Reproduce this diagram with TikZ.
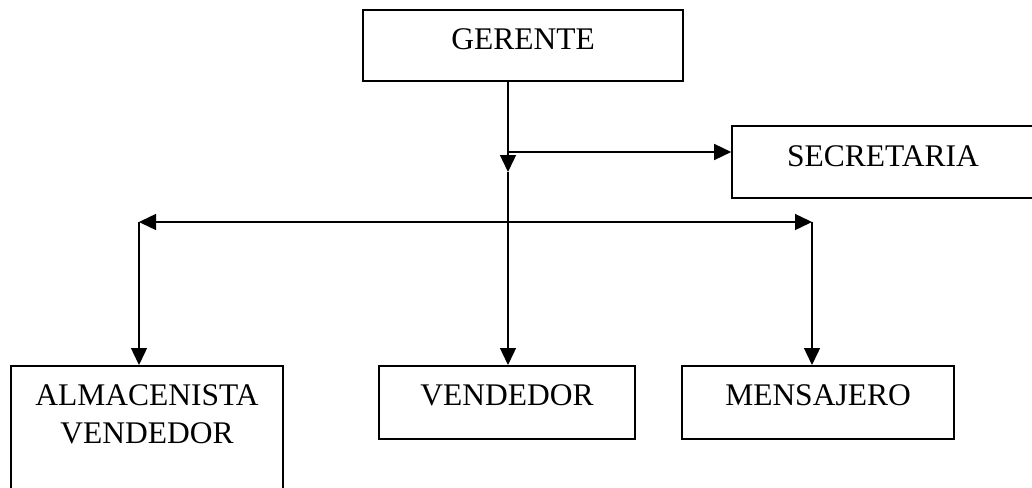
\documentclass[tikz,border=0pt]{standalone}
\usepackage{fontspec}
\setmainfont{Liberation Serif}
\usetikzlibrary{arrows.meta}
\begin{document}
\begin{tikzpicture}[x=1pt,y=-1pt,
  box/.style={draw, line width=1.6pt, anchor=north, inner xsep=0pt, inner ysep=19pt,
    text height=21pt, align=center, font=\fontsize{31.5}{38}\selectfont},
  tip/.style={Triangle[length=17pt,width=16pt]},
  conn/.style={line width=1.4pt, -{Triangle[length=17pt,width=16pt]}},
  conn2/.style={line width=1.4pt, {Triangle[length=17pt,width=16pt]}-{Triangle[length=17pt,width=16pt]}}]
\useasboundingbox (0,0) rectangle (1032,487);
\clip (0,0) rectangle (1032,487);
\node[box, minimum width=320pt, text depth=12pt] (ger) at (523,9) {GERENTE};
\node[box, minimum width=302pt, inner ysep=20pt, text depth=11pt] (sec) at (883,125) {SECRETARIA};
\node[box, minimum width=272pt, text height=59pt, text depth=120pt] (alm) at (147,365) {ALMACENISTA\\VENDEDOR};
\node[box, minimum width=256pt, text depth=14pt] (ven) at (507,365) {VENDEDOR};
\node[box, minimum width=272pt, text depth=14pt] (men) at (818,365) {MENSAJERO};
\coordinate (br) at (508,152);
\coordinate (mid) at (508,172);
\coordinate (L) at (139,222);
\coordinate (R) at (812,222);
\draw[conn] (ger.south -| mid) -- (mid);
\draw[conn] (mid) -- (ven.north -| mid);
\draw[conn] (br) -- (sec.west |- br);
\draw[conn2] (L) -- (R);
\draw[conn] (L) -- (alm.north -| L);
\draw[conn] (R) -- (men.north -| R);
\end{tikzpicture}
\end{document}
